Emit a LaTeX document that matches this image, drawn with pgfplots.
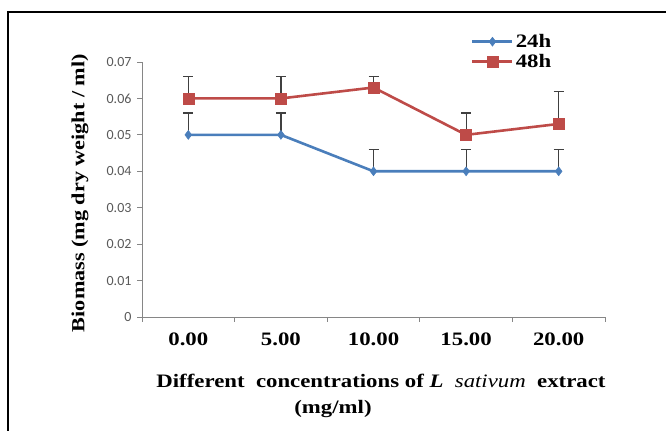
\documentclass[border=0pt]{standalone}
\usepackage{fontspec}
\setmainfont{Liberation Serif}[FakeStretch=1.2]
\newfontfamily\tickfont{Carlito}
\usepackage{pgfplots}
\pgfplotsset{compat=1.18}
\definecolor{serA}{HTML}{4A7EBB}
\definecolor{serB}{HTML}{BE4B48}
\definecolor{axgray}{HTML}{868686}
\definecolor{ticktext}{HTML}{595959}
\definecolor{errcol}{HTML}{404040}
\begin{document}
\begin{tikzpicture}[x=1pt,y=1pt]
\useasboundingbox (0,0) rectangle (666,431);
\draw[line width=2.2pt] (7,419) -- (666,419);
\draw[line width=2.2pt] (8,420) -- (8,0);
\begin{axis}[
  at={(142pt,114pt)}, anchor=south west,
  scale only axis, width=463pt, height=255pt,
  xmin=-0.5, xmax=4.5, ymin=0, ymax=0.07,
  axis x line=bottom, axis y line=left,
  axis line style={draw=axgray, line width=0.9pt, -},
  xtick={0,1,2,3,4},
  xticklabels={0.00,5.00,10.00,15.00,20.00},
  minor xtick={-0.5,0.5,1.5,2.5,3.5,4.5},
  major x tick style={draw=none},
  minor tick length=5pt,
  major tick length=5pt,
  tick align=outside,
  tick style={draw=axgray, line width=0.9pt},
  scaled y ticks=false,
  ytick={0,0.01,0.02,0.03,0.04,0.05,0.06,0.07},
  yticklabels={0,0.01,0.02,0.03,0.04,0.05,0.06,0.07},
  yticklabel style={font=\tickfont\fontsize{14}{16}\selectfont, text=ticktext, xshift=-2pt},
  xticklabel style={font=\fontsize{19}{22}\selectfont\bfseries, yshift=-7pt},
  legend style={draw=none, fill=none, at={(0.704,1.125)}, anchor=north west,
    font=\fontsize{19}{22}\selectfont\bfseries, row sep=1pt,
    /tikz/every even column/.append style={column sep=4pt}},
  legend image code/.code={
    \draw[#1, mark repeat=2, mark phase=2] plot coordinates {(0pt,0pt) (20pt,0pt) (40pt,0pt)};},
  clip=false,
]
\addplot[color=serA, line width=2.6pt, mark=diamond*, mark size=4.5pt,
  mark options={fill=serA, draw=serA, line width=0.5pt},
  error bars/.cd, y dir=plus, y explicit,
  error bar style={draw=errcol, line width=1.2pt},
  error mark options={draw=errcol, line width=1.2pt, mark size=5pt, rotate=90}]
  table[x=x, y=y, y error=e] {
x y e
0 0.050 0.006
1 0.050 0.006
2 0.040 0.006
3 0.040 0.006
4 0.040 0.006
};
\addlegendentry{24h}
\addplot[color=serB, line width=2.6pt, mark=square*, mark size=5.5pt,
  mark options={fill=serB, draw=serB, line width=0.5pt},
  error bars/.cd, y dir=plus, y explicit,
  error bar style={draw=errcol, line width=1.2pt},
  error mark options={draw=errcol, line width=1.2pt, mark size=5pt, rotate=90}]
  table[x=x, y=y, y error=e] {
x y e
0 0.060 0.006
1 0.060 0.006
2 0.063 0.003
3 0.050 0.006
4 0.053 0.009
};
\addlegendentry{48h}
\end{axis}
\node[rotate=90, font=\fontsize{18.5}{22}\selectfont\bfseries] at (80,238) {Biomass (mg dry weight / ml)};
\node[font=\fontsize{19}{22}\selectfont\bfseries] at (381,50) {Different\ \ concentrations of \textit{L\ \ \mdseries sativum}\ \ extract};
\node[font=\fontsize{19}{22}\selectfont\bfseries] at (333,22) {(mg/ml)};
\end{tikzpicture}
\end{document}
